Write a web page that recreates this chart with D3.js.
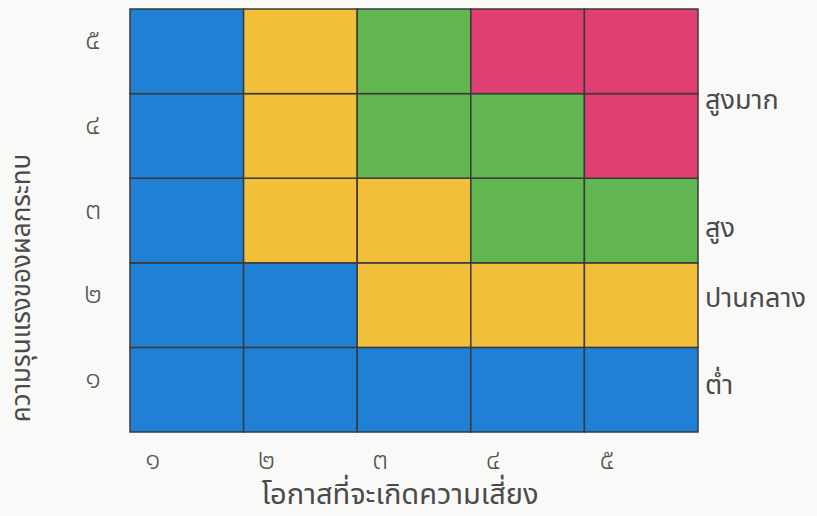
<!DOCTYPE html>
<html>
<head>
<meta charset="utf-8">
<script src="https://cdn.jsdelivr.net/npm/d3@7/dist/d3.min.js"></script>
<style>
html,body{margin:0;padding:0;background:#f9f9f7;}
svg{display:block;}
text{font-family:"Noto Sans Thai","Noto Sans Thai Looped","Loma","Garuda","Tahoma","Noto Sans",sans-serif;fill:#4a4a4a;}
</style>
</head>
<body>
<svg id="chart" width="817" height="516"></svg>
<script>
// Likelihood (columns) and impact (rows)
const likelihood = [1, 2, 3, 4, 5];
const impact = [1, 2, 3, 4, 5];
const thaiDigits = ["๑", "๒", "๓", "๔", "๕"];
// risk level per cell: rows listed from impact 5 (top) to impact 1 (bottom)
const levelRow5 = [1, 2, 3, 4, 4];
const levelRow4 = [1, 2, 3, 3, 4];
const levelRow3 = [1, 2, 2, 3, 3];
const levelRow2 = [1, 1, 2, 2, 2];
const levelRow1 = [1, 1, 1, 1, 1];
const levelNames = ["ต่ำ", "ปานกลาง", "สูง", "สูงมาก"];
const levelColors = ["#1f80d6", "#f2bf3b", "#62b651", "#e03f71"];
const xTitle = "โอกาสที่จะเกิดความเสี่ยง";
const yTitle = "ความรุนแรงของผลกระทบ";

(function () {
const rowsByImpact = {5: levelRow5, 4: levelRow4, 3: levelRow3, 2: levelRow2, 1: levelRow1};
const cells = [];
impact.forEach(im => likelihood.forEach((lk, i) => cells.push({lk, im, level: rowsByImpact[im][i]})));

const svg = d3.select("#chart");
const mLeft = 130, mRight = 698, mTop = 9, mBottom = 432;

const x = d3.scaleBand().domain(likelihood).range([mLeft, mRight]);
const y = d3.scaleBand().domain(impact.slice().reverse()).range([mTop, mBottom]);
const yLin = d3.scaleLinear().domain([0.5, 5.5]).range([mBottom, mTop]);
const color = d3.scaleOrdinal().domain([1, 2, 3, 4]).range(levelColors);

svg.append("g").selectAll("rect").data(cells).join("rect")
  .attr("x", d => x(d.lk)).attr("y", d => y(d.im))
  .attr("width", x.bandwidth()).attr("height", y.bandwidth())
  .attr("fill", d => color(d.level))
  .attr("stroke", "#3a3a3a").attr("stroke-width", 1.5);

// x tick labels
svg.append("g").selectAll("text").data(likelihood).join("text")
  .attr("x", d => x(d) + x.bandwidth() * 0.2)
  .attr("y", 469)
  .attr("text-anchor", "middle")
  .attr("font-size", 28)
  .attr("font-weight", 300)
  .style("fill", "#555")
  .text(d => thaiDigits[d - 1]);

// y tick labels
svg.append("g").selectAll("text").data(impact).join("text")
  .attr("x", 93)
  .attr("y", d => y(d) + y.bandwidth() * 0.5 - 2)
  .attr("text-anchor", "middle")
  .attr("font-size", 29)
  .attr("font-weight", 300)
  .style("fill", "#555")
  .text(d => thaiDigits[d - 1]);

// axis titles
svg.append("text")
  .attr("x", 400).attr("y", 504)
  .attr("text-anchor", "middle")
  .attr("font-size", 29)
  .text(xTitle);

svg.append("text")
  .attr("transform", `translate(30,288) rotate(-90)`)
  .attr("text-anchor", "middle")
  .attr("font-size", 26)
  .text(yTitle);

// legend labels on the right
const legendRows = [1.06, 2.08, 2.91, 4.42];
svg.append("g").selectAll("text").data(levelNames).join("text")
  .attr("x", 705)
  .attr("y", (d, i) => yLin(legendRows[i]) + 9)
  .attr("font-size", 27)
  .text(d => d);
})();
</script>
</body>
</html>
